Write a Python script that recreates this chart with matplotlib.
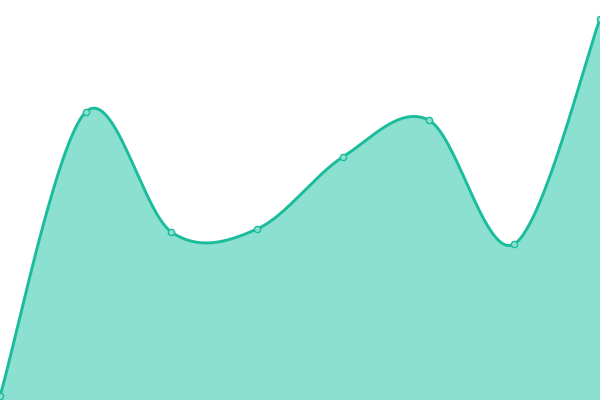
import numpy as np
import matplotlib
matplotlib.use("Agg")
import matplotlib.pyplot as plt

categories = list(range(8))
values = [4, 288, 168, 171, 243, 280, 156, 381]

LINE = "#1abc9c"
FILL = "#8ce0d0"

def catmull(x, y, n=60, tension=0.5):
    x = np.asarray(x, float); y = np.asarray(y, float)
    xs, ys = [], []
    N = len(x)
    for i in range(N - 1):
        p0 = i - 1 if i > 0 else i
        p3 = i + 2 if i + 2 < N else i + 1
        m1x = (x[i + 1] - x[p0]) * tension
        m1y = (y[i + 1] - y[p0]) * tension
        m2x = (x[p3] - x[i]) * tension
        m2y = (y[p3] - y[i]) * tension
        t = np.linspace(0, 1, n, endpoint=(i == N - 2))
        h00 = 2*t**3 - 3*t**2 + 1
        h10 = t**3 - 2*t**2 + t
        h01 = -2*t**3 + 3*t**2
        h11 = t**3 - t**2
        xs.append(h00*x[i] + h10*m1x + h01*x[i+1] + h11*m2x)
        ys.append(h00*y[i] + h10*m1y + h01*y[i+1] + h11*m2y)
    return np.concatenate(xs), np.concatenate(ys)

fig = plt.figure(figsize=(6, 4), dpi=100)
ax = fig.add_axes([0, 0, 1, 1])
sx, sy = catmull(categories, values)
ax.fill_between(sx, sy, 0, color=FILL, linewidth=0, zorder=1)
ax.plot(sx, sy, color=LINE, linewidth=2.1, zorder=2, solid_capstyle="round")
ax.plot(categories, values, "o", markersize=4.5, markerfacecolor=FILL,
        markeredgecolor=LINE, markeredgewidth=1, zorder=3, clip_on=False)
ax.set_xlim(0, 7)
ax.set_ylim(0, 400)
ax.axis("off")
fig.savefig("out.png", dpi=100)
